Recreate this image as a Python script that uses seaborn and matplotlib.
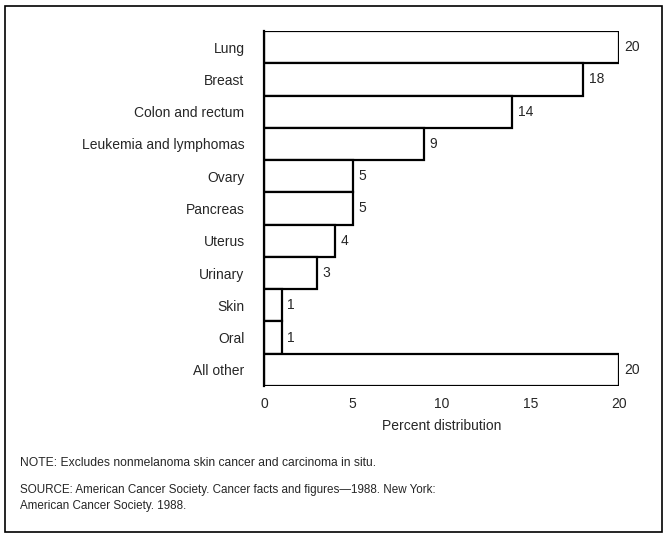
import pandas as pd
import seaborn as sns
import matplotlib.pyplot as plt
from matplotlib.patches import Rectangle

# Data
sites = ["Lung", "Breast", "Colon and rectum", "Leukemia and lymphomas", "Ovary",
         "Pancreas", "Uterus", "Urinary", "Skin", "Oral", "All other"]
percent = [20, 18, 14, 9, 5, 5, 4, 3, 1, 1, 20]
x_ticks = [0, 5, 10, 15, 20]

df = pd.DataFrame({"site": sites, "percent": percent})

sns.set_style("white")
plt.rcParams["font.family"] = ["Liberation Sans", "DejaVu Sans"]

fig = plt.figure(figsize=(6.66, 5.39), dpi=100)
ax = fig.add_axes([0.3964, 0.2839, 0.533, 0.6586])

sns.barplot(data=df, x="percent", y="site", orient="h", color="white",
            edgecolor="black", linewidth=1.6, width=1.0, ax=ax)

for i, v in enumerate(percent):
    ax.text(v + 0.3, i, str(v), va="center", ha="left", fontsize=10)

ax.set_xlim(0, 20)
ax.set_ylim(len(sites) - 0.5, -0.5)
ax.set_xticks(x_ticks)
ax.set_xticklabels([str(t) for t in x_ticks], fontsize=10)
ax.tick_params(axis="x", length=0, pad=8)
ax.tick_params(axis="y", length=0, pad=14)
for lbl in ax.get_yticklabels():
    lbl.set_fontsize(10)
ax.set_ylabel("")
ax.set_xlabel("Percent distribution", fontsize=10, labelpad=6)

for side in ["top", "right", "bottom"]:
    ax.spines[side].set_visible(False)
ax.spines["left"].set_linewidth(1.6)
ax.spines["left"].set_color("black")

fig.text(20 / 666, 1 - 463 / 539, "NOTE: Excludes nonmelanoma skin cancer and carcinoma in situ.",
         fontsize=8.7, va="center", ha="left")
fig.text(20 / 666, 1 - 498 / 539,
         "SOURCE: American Cancer Society. Cancer facts and figures\u20141988. New York:\nAmerican Cancer Society. 1988.",
         fontsize=8.4, va="center", ha="left", linespacing=1.35)

# frame around the figure
fig.patches.append(Rectangle((5 / 666, 7 / 539), 657 / 666, 526 / 539,
                             transform=fig.transFigure, fill=False,
                             edgecolor="black", linewidth=1.2))

fig.savefig("out.png", dpi=100)
